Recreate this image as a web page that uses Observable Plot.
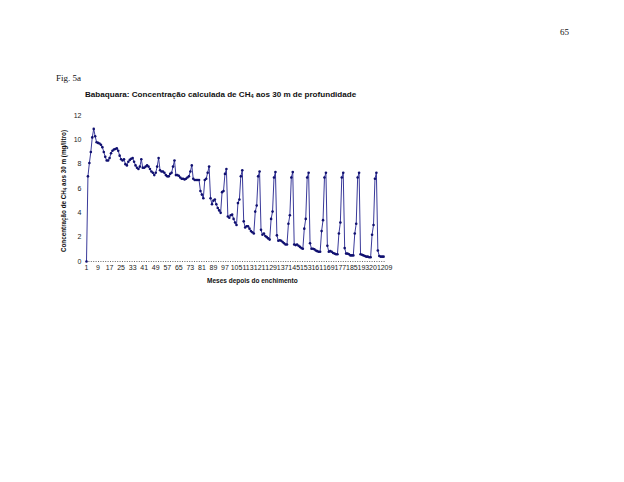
<!DOCTYPE html>
<html lang="pt">
<head>
<meta charset="UTF-8">
<title>Babaquara: Concentração calculada de CH4 aos 30 m de profundidade</title>
<script src="https://cdn.jsdelivr.net/npm/d3@7"></script>
<script src="https://cdn.jsdelivr.net/npm/@observablehq/plot@0.6"></script>
<style>
  body { margin: 0; background: #fff; }
  #page { position: relative; width: 624px; height: 482px; overflow: hidden; font-family: "Liberation Sans", Arial, sans-serif; }
  .serif { position: absolute; font-family: "Liberation Serif", "Times New Roman", serif; font-size: 9px; color: #111; }
  .bold { position: absolute; font-weight: bold; color: #111; white-space: nowrap; }
  #title { left: 85px; top: 90px; font-size: 8.1px; }
  #xlabel { left: 207px; top: 277px; font-size: 6.5px; }
  #ylabel { left: 63px; top: 191px; font-size: 6.3px; transform: translate(-50%, -50%) rotate(-90deg); }
  sub { font-size: 70%; vertical-align: -0.25em; line-height: 0; }
  #chart { position: absolute; left: 0; top: 0; }
</style>
</head>
<body>
<div id="page">
  <div class="serif" style="left:560px; top:27px;">65</div>
  <div class="serif" style="left:56px; top:73px;">Fig. 5a</div>
  <div class="bold" id="title">Babaquara: Concentração calculada de CH<sub>4</sub> aos 30 m de profundidade</div>
  <div class="bold" id="ylabel">Concentração de CH<sub>4</sub> aos 30 m (mg/litro)</div>
  <div class="bold" id="xlabel">Meses depois do enchimento</div>
  <div id="chart"></div>
</div>
<script>
  // concentração de CH4 (mg/litro), um valor por mês depois do enchimento
  const concentracao = [
    0, 7.0, 8.1, 9.0, 10.2, 10.9, 10.3, 9.8, 9.75, 9.7,
    9.6, 9.4, 9.0, 8.6, 8.3, 8.3, 8.5, 8.9, 9.1, 9.2,
    9.25, 9.3, 9.1, 8.7, 8.4, 8.3, 8.4, 8.0, 7.9, 8.2,
    8.35, 8.45, 8.5, 8.2, 7.9, 7.7, 7.6, 7.8, 8.4, 7.7,
    7.7, 7.8, 7.9, 7.8, 7.6, 7.4, 7.3, 7.1, 7.3, 7.8,
    8.5, 7.5, 7.4, 7.4, 7.3, 7.1, 7.0, 7.0, 7.2, 7.3,
    7.8, 8.3,
    7.1, 7.1, 7.05, 6.9, 6.8, 6.8, 6.75, 6.8, 6.9, 7.0, 7.4, 7.9,
    6.8, 6.7, 6.7, 6.7, 6.7, 5.8, 5.5, 5.2, 6.7, 6.8, 7.3, 7.8,
    5.2, 4.7, 5.0, 5.1, 4.7, 4.4, 4.2, 4.0, 5.7, 5.8, 7.2, 7.6,
    3.7, 3.6, 3.8, 3.85, 3.5, 3.2, 3.0, 4.8, 5.1, 7.0, 7.5,
    3.3, 2.8, 2.9, 2.9, 2.7, 2.5, 2.4, 2.3, 4.1, 4.6, 7.0, 7.4,
    2.6, 2.2, 2.3, 2.1, 2.0, 1.9, 1.8, 3.5, 4.1, 6.9, 7.35,
    2.15, 1.7, 1.75, 1.7, 1.6, 1.5, 1.4, 1.4, 3.1, 3.8, 6.9, 7.35,
    1.4, 1.35, 1.4, 1.3, 1.2, 1.1, 1.05, 2.7, 3.5, 6.9, 7.3,
    1.5, 1.05, 1.05, 1.0, 0.9, 0.85, 0.8, 0.8, 2.5, 3.4, 6.9, 7.3,
    1.3, 0.8, 0.85, 0.8, 0.7, 0.65, 0.6, 0.6, 2.3, 3.2, 6.9, 7.3,
    1.1, 0.65, 0.65, 0.6, 0.5, 0.5, 0.5, 2.3, 3.1, 6.9, 7.3,
    0.6, 0.55, 0.5, 0.45, 0.4, 0.4, 0.35, 0.35, 2.2, 3.0, 6.8, 7.3,
    0.9, 0.45, 0.4, 0.4, 0.4
  ];
  const mesesTicks = [1, 9, 17, 25, 33, 41, 49, 57, 65, 73, 81, 89, 97, 105, 113, 121, 129, 137, 145, 153, 161, 169, 177, 185, 193, 201, 209];
  const yTicks = [0, 2, 4, 6, 8, 10, 12];

  const data = concentracao.map((v, i) => ({mes: i + 1, conc: v}));

  const chart = Plot.plot({
    width: 624,
    height: 482,
    marginLeft: 86,
    marginRight: 238,
    marginTop: 115,
    marginBottom: 221,
    style: {fontFamily: "'Liberation Sans', Arial, sans-serif", fontSize: "7px", color: "#222", background: "transparent"},
    x: {domain: [1, 209], ticks: mesesTicks, tickSize: 0, tickPadding: 4, label: null},
    y: {domain: [0, 12], ticks: yTicks, tickSize: 0, tickPadding: 5, label: null},
    marks: [
      Plot.ruleY([0], {stroke: "#666", strokeDasharray: "1,1.4", strokeWidth: 1.2}),
      Plot.line(data, {x: "mes", y: "conc", stroke: "#3a3a9a", strokeWidth: 1}),
      Plot.dot(data, {x: "mes", y: "conc", r: 1.3, fill: "#101070", stroke: "none"})
    ]
  });
  document.getElementById("chart").appendChild(chart);
</script>
</body>
</html>
